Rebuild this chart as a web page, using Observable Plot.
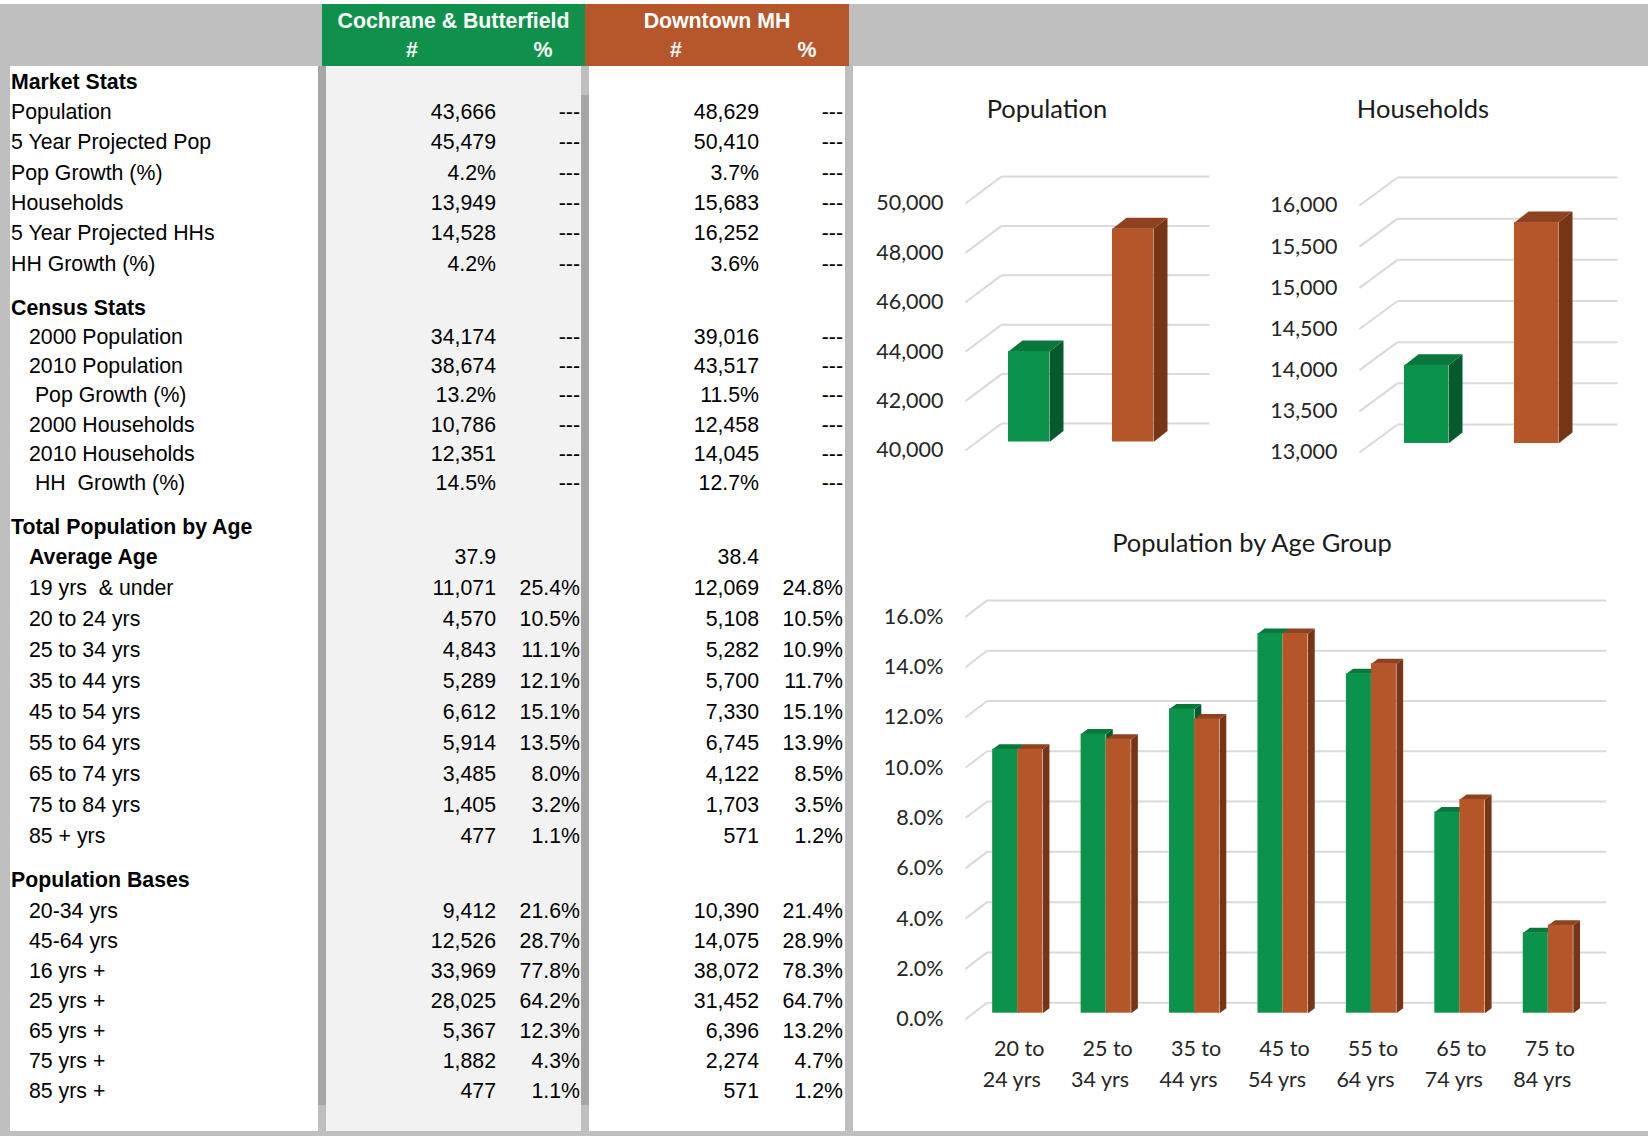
<!DOCTYPE html>
<html><head><meta charset="utf-8">
<script src="https://cdn.jsdelivr.net/npm/d3@7"></script>
<script src="https://cdn.jsdelivr.net/npm/@observablehq/plot@0.6"></script>
<style>
html,body{margin:0;padding:0;background:#fff;}
#page{position:relative;width:1648px;height:1136px;overflow:hidden;font-family:"Liberation Sans",Arial,sans-serif;}
.box{position:absolute;}
.t{position:absolute;white-space:pre;line-height:1.15;font-size:21.3px;color:#000;}
.ctitle{position:absolute;font-family:Lato,sans-serif;font-size:25.5px;color:#1a1a1a;white-space:nowrap;transform:translate(-50%,-50%);line-height:1.2;}
.chart{position:absolute;}
</style></head><body><div id="page"></div><script>
// ---------------- data ----------------
const seriesNames = ["Cochrane & Butterfield", "Downtown MH"];
const columnHeads = ["#", "%"];
const sectionTitles = ["Market Stats", "Census Stats", "Total Population by Age", "Population Bases"];
const marketRows = [
  ["Population", "43,666", "---", "48,629", "---"],
  ["5 Year Projected Pop", "45,479", "---", "50,410", "---"],
  ["Pop Growth (%)", "4.2%", "---", "3.7%", "---"],
  ["Households", "13,949", "---", "15,683", "---"],
  ["5 Year Projected HHs", "14,528", "---", "16,252", "---"],
  ["HH Growth (%)", "4.2%", "---", "3.6%", "---"]
];
const censusRows = [
  ["2000 Population", "34,174", "---", "39,016", "---"],
  ["2010 Population", "38,674", "---", "43,517", "---"],
  [" Pop Growth (%)", "13.2%", "---", "11.5%", "---"],
  ["2000 Households", "10,786", "---", "12,458", "---"],
  ["2010 Households", "12,351", "---", "14,045", "---"],
  [" HH  Growth (%)", "14.5%", "---", "12.7%", "---"]
];
const ageRows = [
  ["Average Age", "37.9", "", "38.4", ""],
  ["19 yrs  & under", "11,071", "25.4%", "12,069", "24.8%"],
  ["20 to 24 yrs", "4,570", "10.5%", "5,108", "10.5%"],
  ["25 to 34 yrs", "4,843", "11.1%", "5,282", "10.9%"],
  ["35 to 44 yrs", "5,289", "12.1%", "5,700", "11.7%"],
  ["45 to 54 yrs", "6,612", "15.1%", "7,330", "15.1%"],
  ["55 to 64 yrs", "5,914", "13.5%", "6,745", "13.9%"],
  ["65 to 74 yrs", "3,485", "8.0%", "4,122", "8.5%"],
  ["75 to 84 yrs", "1,405", "3.2%", "1,703", "3.5%"],
  ["85 + yrs", "477", "1.1%", "571", "1.2%"]
];
const baseRows = [
  ["20-34 yrs", "9,412", "21.6%", "10,390", "21.4%"],
  ["45-64 yrs", "12,526", "28.7%", "14,075", "28.9%"],
  ["16 yrs +", "33,969", "77.8%", "38,072", "78.3%"],
  ["25 yrs +", "28,025", "64.2%", "31,452", "64.7%"],
  ["65 yrs +", "5,367", "12.3%", "6,396", "13.2%"],
  ["75 yrs +", "1,882", "4.3%", "2,274", "4.7%"],
  ["85 yrs +", "477", "1.1%", "571", "1.2%"]
];

const chartTitles = ["Population", "Households", "Population by Age Group"];
const popValues = [43666, 48629];
const hhValues = [13949, 15683];
const popTicks = [40000, 42000, 44000, 46000, 48000, 50000];
const hhTicks = [13000, 13500, 14000, 14500, 15000, 15500, 16000];
const ageGroups = ["20 to 24 yrs", "25 to 34 yrs", "35 to 44 yrs", "45 to 54 yrs", "55 to 64 yrs", "65 to 74 yrs", "75 to 84 yrs"];
const ageCB = [0.105, 0.111, 0.121, 0.151, 0.135, 0.080, 0.032];
const ageDT = [0.105, 0.109, 0.117, 0.151, 0.139, 0.085, 0.035];
const ageTicks = [0, 0.02, 0.04, 0.06, 0.08, 0.10, 0.12, 0.14, 0.16];

// ---------------- styles ----------------
const GREEN = "#0f914b", ORANGE = "#b5572a";
const greenFaces = {front: "#0b924b", side: "#065a2d", top: "#08773b"};
const orangeFaces = {front: "#b45628", side: "#773518", top: "#8e4220"};
const GRID = "#d9d9d9";

const page = document.getElementById("page");
function box(x, y, w, h, color) {
  const d = document.createElement("div");
  d.className = "box";
  Object.assign(d.style, {left: x + "px", top: y + "px", width: w + "px", height: h + "px", background: color});
  page.appendChild(d);
}
function txt(str, x, cy, o = {}) {
  const d = document.createElement("div");
  d.className = "t";
  d.textContent = str;
  const tx = o.anchor === "end" ? "-100%" : o.anchor === "middle" ? "-50%" : "0";
  Object.assign(d.style, {left: x + "px", top: cy + "px", transform: `translate(${tx},-50%)`});
  if (o.bold) d.style.fontWeight = "bold";
  if (o.color) d.style.color = o.color;
  page.appendChild(d);
}

// frame / backgrounds
box(0, 4, 1648, 62, "#bfbfbf");
box(0, 4, 10, 1132, "#bfbfbf");
box(0, 1131, 1648, 5, "#bfbfbf");
box(322, 4, 263, 62, GREEN);
box(585, 4, 264, 62, ORANGE);
box(326, 66, 255, 1065, "#f2f2f2");
box(318, 66, 8, 1039, "#a6a6a6");
box(318, 1105, 8, 26, "#bfbfbf");
box(581, 66, 8, 29, "#bfbfbf");
box(581, 95, 8, 1010, "#a6a6a6");
box(581, 1105, 8, 26, "#bfbfbf");
box(845, 66, 8, 1065, "#bfbfbf");

// header text
const headCenters = [453.5, 717];
const subCenters = [[412, 543], [676, 807]];
seriesNames.forEach((s, i) => {
  txt(s, headCenters[i], 21, {anchor: "middle", bold: true, color: "#fff"});
  columnHeads.forEach((h, j) => txt(h, subCenters[i][j], 50, {anchor: "middle", bold: true, color: "#fff"}));
});

// table
const sectionRows = [marketRows, censusRows, ageRows, baseRows];
const layout = [
  {title: 81.5, first: 112, step: 30.3, indent: 11},
  {title: 307.5, first: 337, step: 29.2, indent: 29},
  {title: 527, first: 556.5, step: 31.0, indent: 29},
  {title: 880, first: 910.7, step: 30.0, indent: 29}
];
const valueRight = [496, 580, 759, 843];
sectionTitles.forEach((title, s) => {
  const L = layout[s];
  txt(title, 11, L.title, {bold: true});
  sectionRows[s].forEach((row, r) => {
    const cy = L.first + r * L.step;
    txt(row[0], L.indent, cy, {bold: row[0] === "Average Age"});
    for (let c = 1; c < 5; c++) if (row[c]) txt(row[c], valueRight[c - 1], cy, {anchor: "end"});
  });
});

// ---------------- 3D column charts ----------------
// series: {values, index (category of each value), slot, faces}; slots = bars per category
function bar3d(cfg) {
  const {n, series, slots, yDomain, ticks, tickFormat, box: B, front, depth, shift, side, barWidth, labels} = cfg;
  const ml = front.x0 - B.left, mr = B.left + B.width - front.x1;
  const mt = front.yTop - B.top, mb = B.top + B.height - front.yBottom;
  const kx = (front.x1 - front.x0) / n;
  const ky = (front.yBottom - front.yTop) / (yDomain[1] - yDomain[0]);
  const dX = depth[0] / kx, dY = depth[1] / ky;
  const sX = shift[0] / kx, sY = shift[1] / ky;
  const eX = side[0] / kx, eY = side[1] / ky;
  const y0 = yDomain[0];
  const marks = [
    Plot.link(ticks, {x1: () => 0, y1: d => d, x2: () => dX, y2: d => d + dY, stroke: GRID, strokeWidth: 2}),
    Plot.link(ticks, {x1: () => dX, y1: d => d + dY, x2: () => n + dX, y2: d => d + dY, stroke: GRID, strokeWidth: 2})
  ];
  series.forEach(ser => {
    const items = ser.values.map((v, i) => {
      const c = (ser.index ? ser.index[i] : i) + 0.5;
      const xl = c - (slots * barWidth) / 2 + ser.slot * barWidth + sX;
      return {id: i, xl, xr: xl + barWidth, b: y0 + sY, t: v + sY};
    });
    const sides = items.flatMap(d => [
      {id: d.id, x: d.xr, y: d.b}, {id: d.id, x: d.xr + eX, y: d.b + eY},
      {id: d.id, x: d.xr + eX, y: d.t + eY}, {id: d.id, x: d.xr, y: d.t}
    ]);
    const tops = items.flatMap(d => [
      {id: d.id, x: d.xl, y: d.t}, {id: d.id, x: d.xl + eX, y: d.t + eY},
      {id: d.id, x: d.xr + eX, y: d.t + eY}, {id: d.id, x: d.xr, y: d.t}
    ]);
    marks.push(Plot.line(sides, {x: "x", y: "y", z: "id", fill: ser.faces.side, stroke: "none"}));
    marks.push(Plot.line(tops, {x: "x", y: "y", z: "id", fill: ser.faces.top, stroke: "none"}));
    marks.push(Plot.rect(items, {x1: "xl", x2: "xr", y1: "b", y2: "t", fill: ser.faces.front}));
  });
  if (labels) {
    const first = labels.map(l => l.replace(/^(\d+ to) .*$/, "$1"));
    const second = labels.map(l => l.replace(/^\d+ to /, ""));
    marks.push(Plot.text(first, {x: (d, i) => i + 0.5, y: () => y0, text: d => d, dy: 30.3, dx: 9.5, fill: "#262626"}));
    marks.push(Plot.text(second, {x: (d, i) => i + 0.5, y: () => y0, text: d => d, dy: 60.8, dx: 2, fill: "#262626"}));
  }
  const svg = Plot.plot({
    width: B.width, height: B.height,
    marginLeft: ml, marginRight: mr, marginTop: mt, marginBottom: mb,
    x: {type: "linear", domain: [0, n], axis: null},
    y: {domain: yDomain, ticks, tickFormat, tickSize: 0, tickPadding: 22, label: null},
    style: {fontFamily: "Lato, sans-serif", fontSize: "21.5px", color: "#262626", background: "transparent", overflow: "visible"},
    marks
  });
  const wrap = document.createElement("div");
  wrap.className = "chart";
  Object.assign(wrap.style, {left: B.left + "px", top: B.top + "px", width: B.width + "px", height: B.height + "px"});
  wrap.appendChild(svg);
  page.appendChild(wrap);
}
function ctitle(str, cx, cy) {
  const d = document.createElement("div");
  d.className = "ctitle";
  d.textContent = str;
  Object.assign(d.style, {left: cx + "px", top: cy + "px"});
  page.appendChild(d);
}

bar3d({
  n: 2, slots: 1,
  series: [
    {values: [popValues[0]], index: [0], slot: 0, faces: greenFaces},
    {values: [popValues[1]], index: [1], slot: 0, faces: orangeFaces}
  ],
  yDomain: [40000, 50000], ticks: popTicks, tickFormat: d3.format(","),
  box: {left: 860, top: 70, width: 380, height: 420},
  front: {x0: 965, x1: 1173, yTop: 203, yBottom: 450},
  depth: [36, 27], shift: [11.5, 8.5], side: [14, 11], barWidth: 0.394
});
bar3d({
  n: 2, slots: 1,
  series: [
    {values: [hhValues[0]], index: [0], slot: 0, faces: greenFaces},
    {values: [hhValues[1]], index: [1], slot: 0, faces: orangeFaces}
  ],
  yDomain: [13000, 16000], ticks: hhTicks, tickFormat: d3.format(","),
  box: {left: 1250, top: 70, width: 398, height: 420},
  front: {x0: 1359, x1: 1579, yTop: 205, yBottom: 452},
  depth: [38, 28], shift: [12, 9], side: [14, 11], barWidth: 0.4
});
bar3d({
  n: 7, slots: 2,
  series: [
    {values: ageCB, slot: 0, faces: greenFaces},
    {values: ageDT, slot: 1, faces: orangeFaces}
  ],
  yDomain: [0, 0.16], ticks: ageTicks, tickFormat: d3.format(".1%"),
  box: {left: 860, top: 560, width: 788, height: 560},
  front: {x0: 965, x1: 1584, yTop: 616.4, yBottom: 1018.7},
  depth: [21.6, 16.5], shift: [8, 6], side: [6.7, 5], barWidth: 0.283,
  labels: ageGroups
});
ctitle(chartTitles[0], 1047, 108);
ctitle(chartTitles[1], 1423, 108);
ctitle(chartTitles[2], 1252, 541.5);
</script></body></html>
